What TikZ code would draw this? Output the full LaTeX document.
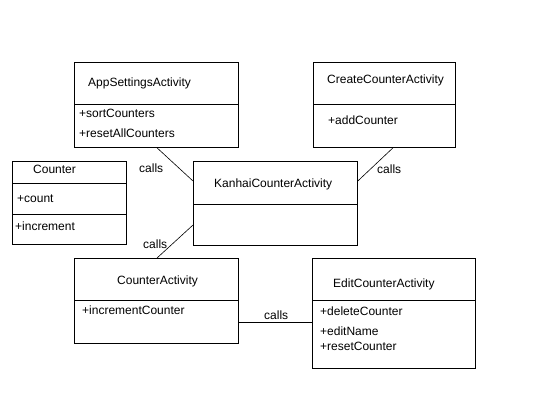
\documentclass[tikz,border=0pt]{standalone}
\usepackage{fontspec}
\setmainfont{Liberation Sans}
\usetikzlibrary{calc}
\begin{document}
\begin{tikzpicture}[x=1bp,y=-1bp,
  box/.style={draw,line width=0.8bp,inner sep=0,anchor=north west},
  lbl/.style={inner sep=0,anchor=base west,font=\fontsize{12bp}{14bp}\selectfont},
  conn/.style={line width=0.6bp},
  divider/.style={line width=0.8bp}]
\useasboundingbox[fill=white] (0,0) rectangle (550,400);
% boxes
\node[box,minimum width=164bp,minimum height=85bp] (app) at (74,62) {};
\node[box,minimum width=142bp,minimum height=85bp] (create) at (313,62) {};
\node[box,minimum width=114bp,minimum height=83bp] (counter) at (12,161) {};
\node[box,minimum width=164bp,minimum height=84bp] (kan) at (193,161) {};
\node[box,minimum width=164bp,minimum height=85bp] (cact) at (74,258) {};
\node[box,minimum width=163bp,minimum height=110bp] (edit) at (312,258) {};
% dividers
\draw[divider] ($(app.north west)+(0,42)$) -- ($(app.north east)+(0,42)$);
\draw[divider] ($(create.north west)+(0,42)$) -- ($(create.north east)+(0,42)$);
\draw[divider] ($(counter.north west)+(0,22)$) -- ($(counter.north east)+(0,22)$);
\draw[divider] ($(counter.north west)+(0,53)$) -- ($(counter.north east)+(0,53)$);
\draw[divider] ($(kan.north west)+(0,43)$) -- ($(kan.north east)+(0,43)$);
\draw[divider] ($(cact.north west)+(0,42)$) -- ($(cact.north east)+(0,42)$);
\draw[divider] ($(edit.north west)+(0,42)$) -- ($(edit.north east)+(0,42)$);
% texts
\node[lbl] (tapp) at (88,86.5) {AppSettingsActivity};
\node[lbl] (tapp1) at (79,117.5) {+sortCounters};
\node[lbl] (tapp2) at (79,137.5) {+resetAllCounters};
\node[lbl] (tcre) at (327,83.5) {CreateCounterActivity};
\node[lbl] (tcre1) at (328,124.5) {+addCounter};
\node[lbl] (tcnt) at (33,173.5) {Counter};
\node[lbl] (tcnt1) at (17,202.5) {+count};
\node[lbl] (tcnt2) at (15,230.5) {+increment};
\node[lbl] (tkan) at (214,187.5) {KanhaiCounterActivity};
\node[lbl] (tca) at (117,284.5) {CounterActivity};
\node[lbl] (tca1) at (82,314.5) {+incrementCounter};
\node[lbl] (ted) at (333,287.5) {EditCounterActivity};
\node[lbl] (ted1) at (320,315.5) {+deleteCounter};
\node[lbl] (ted2) at (320,335.5) {+editName};
\node[lbl] (ted3) at (320,350.5) {+resetCounter};
% connectors
\draw[conn] ($(app.south west)+(83,0)$) -- ($(kan.north west)+(0,20)$);
\draw[conn] ($(create.south west)+(80,0)$) -- ($(kan.north east)+(0,20)$);
\draw[conn] ($(kan.north west)+(0,64)$) -- ($(cact.north west)+(83,0)$);
\draw[conn] ($(cact.north east)+(0,64)$) -- ($(edit.north west)+(0,64)$);
% connector labels
\node[lbl] (c1) at (139,172.5) {calls};
\node[lbl] (c2) at (377,173.5) {calls};
\node[lbl] (c3) at (143,248) {calls};
\node[lbl] (c4) at (264,319) {calls};
\end{tikzpicture}
\end{document}
